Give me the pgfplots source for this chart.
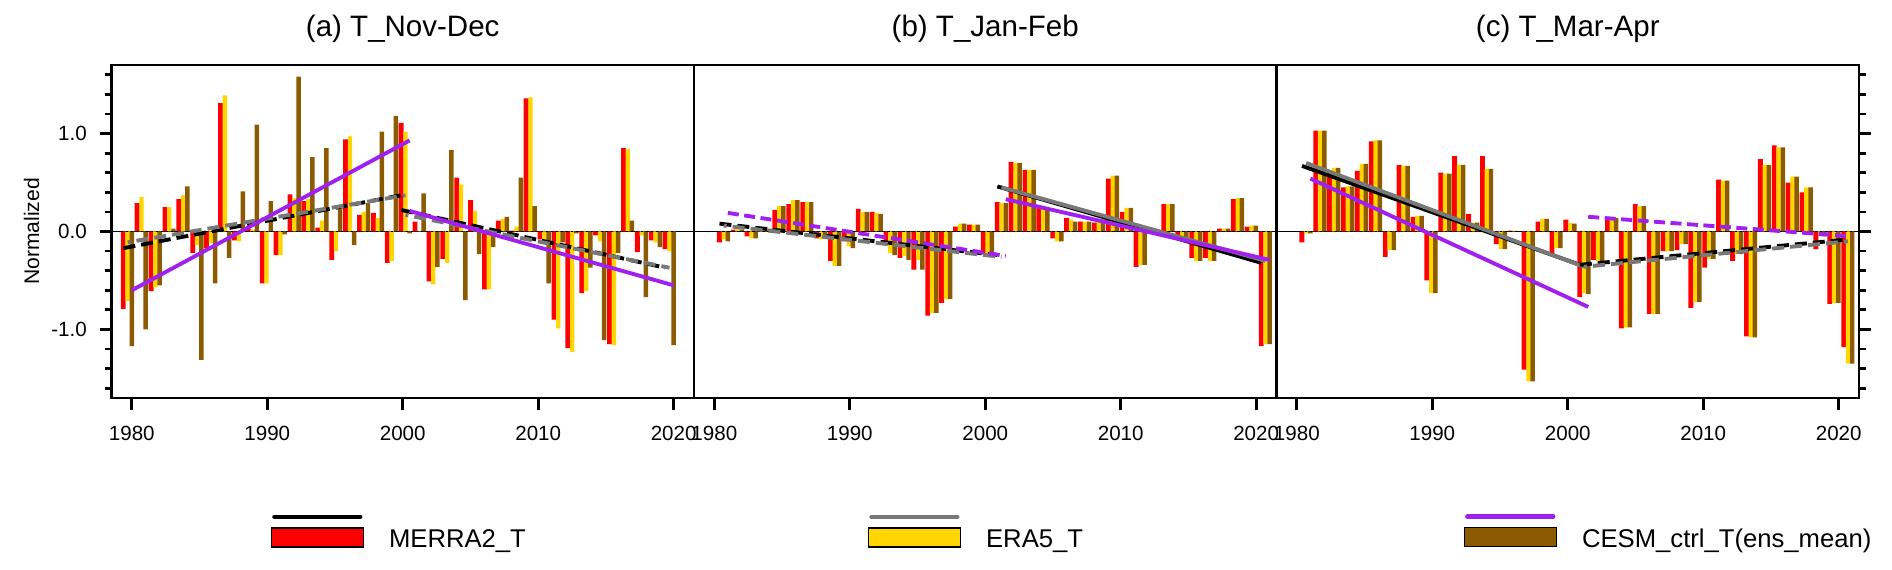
\documentclass[border=0pt]{standalone}
\usepackage{fontspec}
\setmainfont{Liberation Sans}
\usepackage{pgfplots}
\usepackage{pgfplotstable}
\pgfplotsset{compat=1.18}

\definecolor{mred}{RGB}{255,0,0}
\definecolor{mgold}{RGB}{255,214,0}
\definecolor{mbrown}{RGB}{140,90,0}
\definecolor{mpurple}{RGB}{160,32,240}
\definecolor{mgray}{RGB}{120,120,120}

% columns: MERRA2, ERA5, CESM ensemble mean (40 winters each)
\pgfplotstableread{
m e c
-0.79 -0.71 -1.17
0.29 0.35 -1.00
-0.61 -0.57 -0.55
0.25 0.25 0.03
0.33 0.37 0.46
-0.22 -0.14 -1.31
-0.17 -0.12 -0.53
1.31 1.39 -0.27
-0.09 -0.10 0.41
0.03 0.02 1.09
-0.53 -0.53 0.31
-0.24 -0.24 -0.03
0.38 0.34 1.58
0.31 0.33 0.76
0.04 0.11 0.85
-0.29 -0.20 0.23
0.94 0.97 -0.14
0.17 0.20 0.29
0.19 0.14 1.02
-0.32 -0.30 1.18
1.11 1.02 -0.02
0.10 0.01 0.39
-0.51 -0.54 -0.36
-0.28 -0.32 0.83
0.55 0.48 -0.70
0.32 0.21 -0.23
-0.59 -0.59 -0.16
0.11 0.13 0.15
0.01 0.05 0.55
1.36 1.37 0.26
-0.08 -0.12 -0.53
-0.90 -0.99 -0.11
-1.19 -1.23 -0.02
-0.63 -0.61 -0.37
-0.04 -0.10 -1.11
-1.15 -1.16 -0.22
0.85 0.84 0.11
-0.21 -0.04 -0.67
-0.09 -0.11 -0.16
-0.18 -0.20 -1.16
}\novdec

\pgfplotstableread{
m e c
-0.11 -0.08 -0.10
0.02 0.03 0.02
-0.05 -0.07 -0.07
0.00 0.02 0.03
0.22 0.26 0.26
0.28 0.32 0.32
0.30 0.30 0.30
-0.07 -0.08 -0.05
-0.30 -0.35 -0.35
-0.10 -0.15 -0.17
0.23 0.20 0.20
0.20 0.19 0.18
-0.14 -0.22 -0.24
-0.27 -0.25 -0.29
-0.39 -0.29 -0.39
-0.86 -0.83 -0.83
-0.73 -0.69 -0.69
0.05 0.08 0.08
0.07 0.07 0.07
-0.23 -0.25 -0.25
0.30 0.29 0.29
0.71 0.70 0.70
0.63 0.63 0.63
0.26 0.24 0.24
-0.07 -0.10 -0.10
0.14 0.12 0.10
0.10 0.10 0.10
0.09 0.12 0.12
0.54 0.57 0.57
0.20 0.24 0.24
-0.36 -0.34 -0.34
0.00 0.01 0.00
0.28 0.28 0.28
-0.05 -0.05 -0.07
-0.27 -0.30 -0.30
-0.27 -0.30 -0.30
0.03 0.03 0.03
0.33 0.34 0.34
0.05 0.06 0.06
-1.17 -1.15 -1.15
}\janfeb

\pgfplotstableread{
m e c
-0.11 -0.02 -0.02
1.03 1.03 1.03
0.60 0.65 0.65
0.45 0.46 0.46
0.62 0.69 0.69
0.92 0.93 0.93
-0.26 -0.19 -0.19
0.68 0.67 0.67
0.15 0.16 0.16
-0.50 -0.63 -0.63
0.60 0.59 0.59
0.77 0.68 0.68
0.18 0.09 0.09
0.77 0.64 0.64
-0.13 -0.18 -0.18
0.01 0.01 0.00
-1.41 -1.53 -1.53
0.10 0.13 0.13
-0.24 -0.17 -0.17
0.12 0.085 0.08
-0.67 -0.63 -0.64
-0.29 -0.30 -0.30
0.15 0.14 0.14
-0.99 -0.98 -0.98
0.28 0.26 0.26
-0.84 -0.84 -0.84
-0.20 -0.20 -0.20
-0.19 -0.13 -0.13
-0.78 -0.72 -0.72
-0.37 -0.28 -0.28
0.53 0.52 0.52
-0.30 -0.23 -0.23
-1.07 -1.08 -1.08
0.74 0.68 0.68
0.88 0.86 0.86
0.50 0.56 0.56
0.40 0.45 0.45
-0.18 -0.05 -0.05
-0.74 -0.73 -0.73
-1.18 -1.35 -1.35
}\marapr

\pgfplotsset{
  panel/.style={
    scale only axis, width=58.25mm, height=33.3mm,
    xmin=1978.5, xmax=2021.5, ymin=-1.7, ymax=1.7,
    axis line style={line width=0.8pt},
    xtick={1980,1990,2000,2010,2020},
    xtick pos=bottom, tick align=outside,
    major tick length=1.2mm, minor tick length=0.7mm,
    every tick/.style={line width=0.8pt, black},
    xticklabel style={font=\fontsize{5.85}{6}\selectfont, anchor=north, inner sep=0pt, yshift=-1.5mm},
    /pgf/number format/assume math mode=true,
    /pgf/number format/1000 sep={},
    title style={font=\fontsize{8.4}{9}\selectfont, at={(0.5,1)}, anchor=base, yshift=0.7mm, inner sep=0pt},
    legend style={draw=none, fill=none, inner sep=0pt, anchor=south west,
      font=\fontsize{7.3}{8}\selectfont, nodes={inner sep=0pt}, column sep=2.5mm},
  },
  bm/.style={forget plot, ybar, bar width=0.36, bar shift=-0.63, fill=mred, draw=none},
  be/.style={forget plot, ybar, bar width=0.32, bar shift=-0.31, fill=mgold, draw=none},
  bc/.style={forget plot, ybar, bar width=0.33, bar shift=0, fill=mbrown, draw=none},
  zl/.style={forget plot, black, line width=0.4pt},
  zd/.style={forget plot, black, line width=0.5pt, dash pattern=on 0.25mm off 0.25mm},
  tk/.style={forget plot, black, line width=1.1pt},
  tg/.style={forget plot, mgray, line width=1.1pt},
  tp/.style={forget plot, mpurple, line width=1.1pt},
  dk/.style={dash pattern=on 1.2mm off 0.6mm},
  dg/.style={dash pattern=on 1.2mm off 0.6mm, dash phase=0.9mm},
  dp/.style={dash pattern=on 1.1mm off 0.55mm},
  legA/.style={legend image code/.code={
    \draw[black, line width=1.2pt, line cap=round] (0.3mm,2.4mm) -- (8.9mm,2.4mm);
    \draw[fill=mred, draw=black, line width=0.4pt] (0mm,-0.6mm) rectangle (9.2mm,1.3mm);}},
  legB/.style={legend image code/.code={
    \draw[mgray, line width=1.2pt, line cap=round] (0.3mm,2.4mm) -- (8.9mm,2.4mm);
    \draw[fill=mgold, draw=black, line width=0.4pt] (0mm,-0.6mm) rectangle (9.2mm,1.3mm);}},
  legC/.style={legend image code/.code={
    \draw[mpurple, line width=1.2pt, line cap=round] (0.3mm,2.4mm) -- (8.9mm,2.4mm);
    \draw[fill=mbrown, draw=black, line width=0.4pt] (0mm,-0.6mm) rectangle (9.2mm,1.3mm);}},
}

\begin{document}
\begin{tikzpicture}
\useasboundingbox (0,0) rectangle (189.2mm,56.9mm);

% (a) Nov-Dec
\begin{axis}[panel, at={(11.15mm,17.1mm)}, anchor=south west,
  title={(a) T\_Nov-Dec},
  ytick={-1,0,1}, yticklabels={-1.0,0.0,1.0},
  minor ytick={-1.6,-1.4,...,1.6},
  ytick pos=left,
  yticklabel style={font=\fontsize{5.85}{6}\selectfont, anchor=east, inner sep=0pt, xshift=-1.2mm},
  every axis y label/.style={at={(rel axis cs:-0.137,0.5)}, anchor=center, rotate=90,
    font=\fontsize{6}{7}\selectfont},
  ylabel={Normalized},
  legend style={at={(0.272,-0.466)}}]
\addplot[zl] coordinates {(1978.5,0) (2021.5,0)};
\addplot[bm] table[x expr={1980+\coordindex*40/39}, y=m] {\novdec};
\addplot[be] table[x expr={1980+\coordindex*40/39}, y=e] {\novdec};
\addplot[bc] table[x expr={1980+\coordindex*40/39}, y=c] {\novdec};
\addplot[zd] coordinates {(1979.2,0) (2020.2,0)};
\addplot[tk, dk] coordinates {(1979.38,-0.17) (1999.89,0.37)};
\addplot[tg, dg] coordinates {(1979.69,-0.11) (2000.20,0.37)};
\addplot[tp] coordinates {(1980.00,-0.60) (2000.51,0.93)};
\addplot[tk, dk] coordinates {(1999.89,0.22) (2019.38,-0.37)};
\addplot[tg, dg] coordinates {(2000.20,0.17) (2019.69,-0.37)};
\addplot[tp] coordinates {(2000.51,0.21) (2020.00,-0.55)};
\addlegendimage{legA}
\addlegendentry{MERRA2\_T}
\end{axis}

% (b) Jan-Feb
\begin{axis}[panel, at={(69.4mm,17.1mm)}, anchor=south west,
  title={(b) T\_Jan-Feb},
  ytick=\empty,
  legend style={at={(0.297,-0.466)}}]
\addplot[zl] coordinates {(1978.5,0) (2021.5,0)};
\addplot[bm] table[x expr={1981+\coordindex*40/39}, y=m] {\janfeb};
\addplot[be] table[x expr={1981+\coordindex*40/39}, y=e] {\janfeb};
\addplot[bc] table[x expr={1981+\coordindex*40/39}, y=c] {\janfeb};
\addplot[zd] coordinates {(1980.2,0) (2021.2,0)};
\addplot[tk, dk] coordinates {(1980.38,0.08) (2000.89,-0.24)};
\addplot[tg, dg] coordinates {(1980.69,0.06) (2001.20,-0.26)};
\addplot[tp, dp] coordinates {(1981.00,0.19) (2001.51,-0.25)};
\addplot[tk] coordinates {(2000.89,0.46) (2020.38,-0.32)};
\addplot[tg] coordinates {(2001.20,0.45) (2020.69,-0.30)};
\addplot[tp] coordinates {(2001.51,0.33) (2021.00,-0.29)};
\addlegendimage{legB}
\addlegendentry{ERA5\_T}
\end{axis}

% (c) Mar-Apr
\begin{axis}[panel, at={(127.65mm,17.1mm)}, anchor=south west,
  title={(c) T\_Mar-Apr},
  ytick={-1,0,1}, yticklabels={}, minor ytick={-1.6,-1.4,...,1.6},
  ytick pos=right,
  legend style={at={(0.320,-0.466)}}]
\addplot[zl] coordinates {(1978.5,0) (2021.5,0)};
\addplot[bm] table[x expr={1981+\coordindex*40/39}, y=m] {\marapr};
\addplot[be] table[x expr={1981+\coordindex*40/39}, y=e] {\marapr};
\addplot[bc] table[x expr={1981+\coordindex*40/39}, y=c] {\marapr};
\addplot[zd] coordinates {(1980.2,0) (2021.2,0)};
\addplot[tk] coordinates {(1980.38,0.67) (2000.89,-0.34)};
\addplot[tg] coordinates {(1980.69,0.70) (2001.20,-0.36)};
\addplot[tp] coordinates {(1981.00,0.54) (2001.51,-0.77)};
\addplot[tk, dk] coordinates {(2000.89,-0.34) (2020.38,-0.085)};
\addplot[tg, dg] coordinates {(2001.20,-0.36) (2020.69,-0.10)};
\addplot[tp, dp] coordinates {(2001.51,0.15) (2021.00,-0.05)};
\addlegendimage{legC}
\addlegendentry{CESM\_ctrl\_T(ens\_mean)}
\end{axis}
\end{tikzpicture}
\end{document}
